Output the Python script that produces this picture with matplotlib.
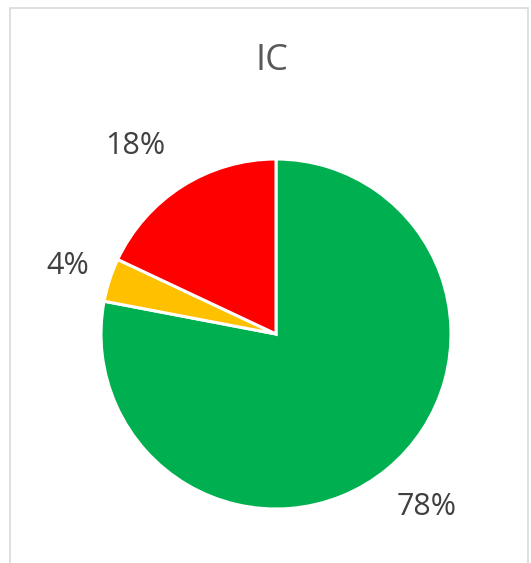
import numpy as np
import matplotlib.pyplot as plt
from matplotlib.patches import Rectangle

# Data
labels = ["Green", "Yellow", "Red"]
values = [78, 4, 18]
colors = ["#00B050", "#FFC000", "#FF0000"]
title = "IC"

# label placement per slice: distance (radii) and angle nudge (deg)
label_dist = [1.31, 1.25, 1.34]
label_nudge = [1.4, 0.0, 4.4]

W, H = 531, 563
fig = plt.figure(figsize=(W / 100, H / 100), dpi=100)

# light chart-area border (Excel style), runs off the bottom edge
fig.add_artist(Rectangle((9.5 / W, -0.05), (527.5 - 9.5) / W, 1.05 - 8.5 / H,
                         transform=fig.transFigure, fill=False,
                         edgecolor="#D9D9D9", linewidth=1.2))

# pie: center (276, 334) px, radius 175 px
cx, cy, r = 276, 334, 175
ax = fig.add_axes([(cx - r) / W, (H - cy - r) / H, 2 * r / W, 2 * r / H])
wedges, texts, autotexts = ax.pie(
    values, colors=colors, startangle=90, counterclock=False,
    autopct="%1.0f%%", pctdistance=1.3,
    wedgeprops=dict(edgecolor="white", linewidth=2.2),
    textprops=dict(fontfamily="Open Sans", fontsize=22, color="#404040"))

for w, t, d, n in zip(wedges, autotexts, label_dist, label_nudge):
    ang = np.deg2rad((w.theta1 + w.theta2) / 2 + n)
    t.set_position((d * np.cos(ang), d * np.sin(ang)))

ax.set_xlim(-1, 1)
ax.set_ylim(-1, 1)
ax.set_aspect("equal")

fig.text(272 / W, 1 - 61 / H, title, ha="center", va="center",
         fontfamily="Open Sans", fontsize=26, color="#595959")

fig.savefig("out.png", dpi=100)
